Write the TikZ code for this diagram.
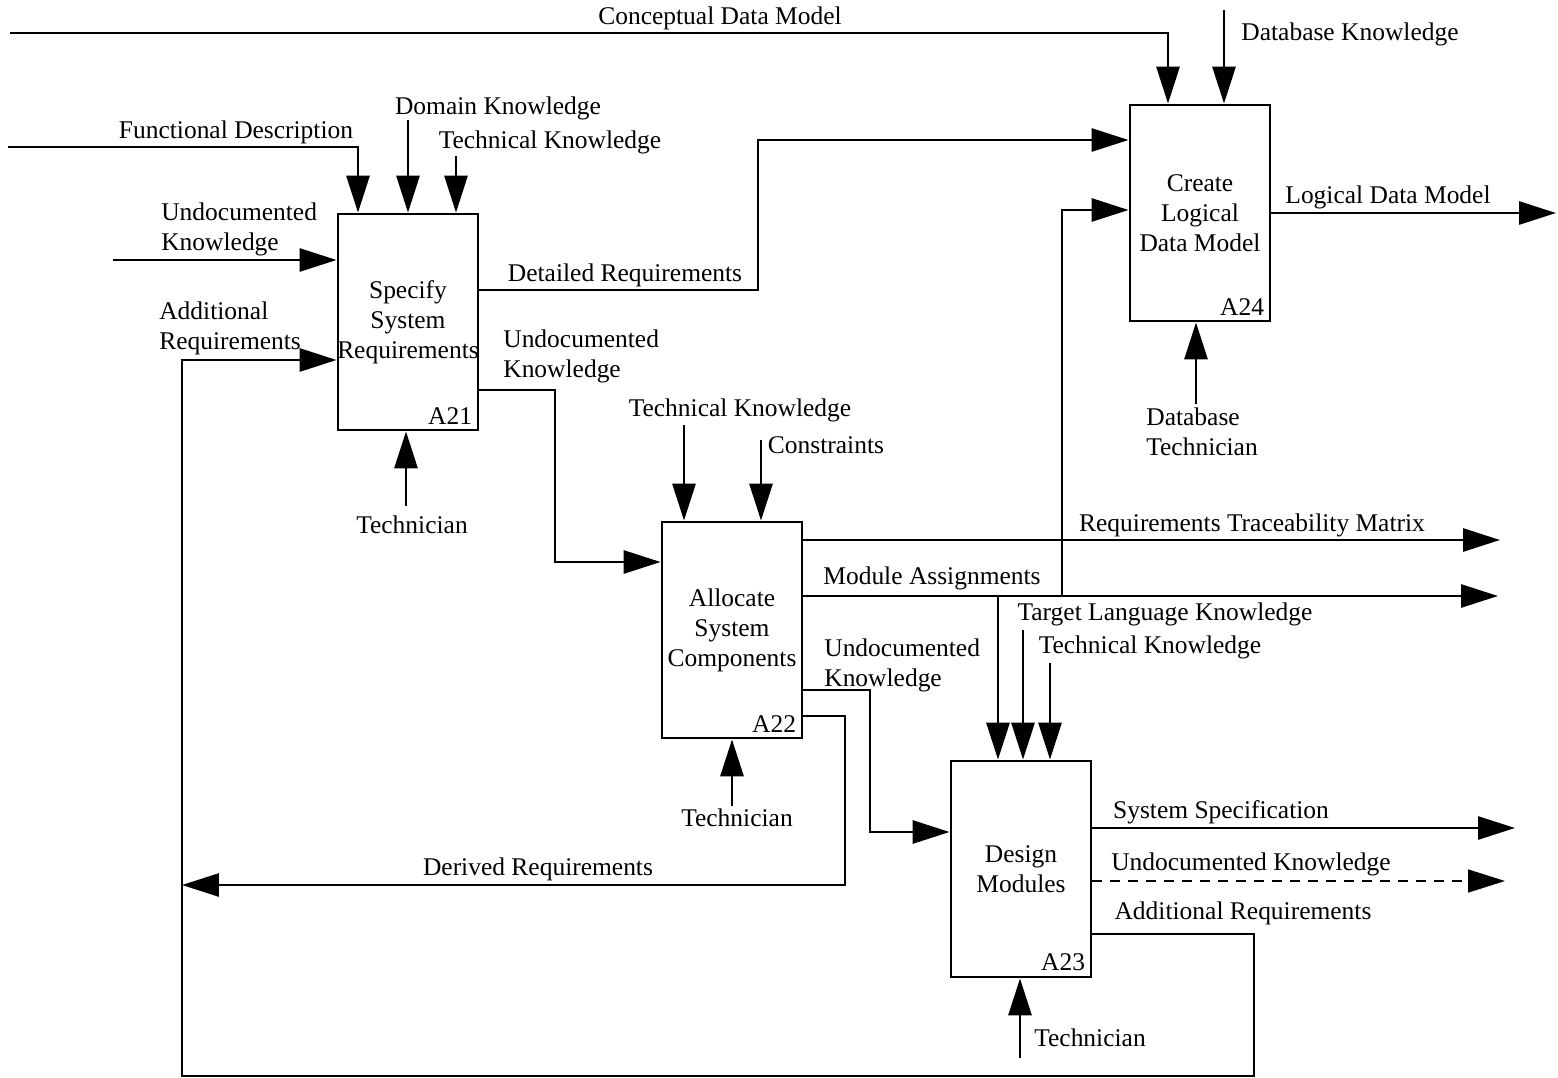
\documentclass[tikz,border=0pt]{standalone}
\usepackage{fontspec}
\setmainfont{Liberation Serif}
\usepackage{tikz}
\usetikzlibrary{arrows.meta,positioning,calc}
\newcommand{\lbfont}{\fontsize{14.5}{17}\selectfont}

\begin{document}
\begin{tikzpicture}[
        x=0.02cm, y=-0.02cm,
        fnbox/.style={rectangle, draw, line width=1.6pt, minimum width=2.8cm, minimum height=4.32cm, inner xsep=-3pt, inner ysep=0pt, align=center, font=\lbfont},
        boxno/.style={anchor=south east, inner sep=4pt, font=\lbfont},
        lbl/.style={align=left, inner sep=0pt, font=\lbfont},
        flow/.style={-{Triangle[length=0.74cm, width=0.46cm]}, line width=1.6pt},
        dflow/.style={flow, line width=0.8pt, dash pattern=on 0.2cm off 0.16cm}
    ]
        \useasboundingbox (0,0) rectangle (1558,1078);

        % activity boxes
        \node[fnbox] (a21) at (408,322) {Specify\\System\\Requirements};
        \node[fnbox] (a22) at (732,630) {Allocate\\System\\Components};
        \node[fnbox] (a23) at (1021,869) {Design\\Modules};
        \node[fnbox] (a24) at (1200,213) {Create\\Logical\\Data Model};
        \node[boxno] (a21n) at (a21.south east) {A21};
        \node[boxno] (a22n) at (a22.south east) {A22};
        \node[boxno] (a23n) at (a23.south east) {A23};
        \node[boxno] (a24n) at (a24.south east) {A24};

        % free ends
        \coordinate (cdm) at (10,33);
        \coordinate (dbk) at (1224,10);
        \coordinate (fd) at (8,147);
        \coordinate (dk) at (408,120);
        \coordinate (tk1) at (456,156);
        \coordinate (uk1) at (113,260);
        \coordinate (tec1) at (406,506);
        \coordinate (tk2) at (684,425);
        \coordinate (con) at (761,440);
        \coordinate (tec2) at (732,806);
        \coordinate (rtm) at (1500,540);
        \coordinate (ma) at (1498,596);
        \coordinate (tlk) at (1023,630);
        \coordinate (tk3) at (1050,663);
        \coordinate (ss) at (1515,828);
        \coordinate (uk4) at (1505,881);
        \coordinate (tec3) at (1020,1058);
        \coordinate (ldm) at (1556,213);
        \coordinate (dbt) at (1196,404);

        % labels
        \node[lbl] (cdml) at (720,18) {Conceptual Data Model};
        \node[lbl] (dbkl) at (1350,34) {Database Knowledge};
        \node[lbl] (fdl) at (236,132) {Functional Description};
        \node[lbl] (dkl) at (498,108) {Domain Knowledge};
        \node[lbl] (tk1l) at (550,142) {Technical Knowledge};
        \node[lbl, anchor=west] (uk1l) at (161,229) {Undocumented\\Knowledge};
        \node[lbl, anchor=west] (arl) at (159,328) {Additional\\Requirements};
        \node[lbl] (drl) at (625,275) {Detailed Requirements};
        \node[lbl, anchor=west] (uk2l) at (503,356) {Undocumented\\Knowledge};
        \node[lbl] (tec1l) at (412,525) {Technician};
        \node[lbl] (tk2l) at (740,410) {Technical Knowledge};
        \node[lbl] (conl) at (826,445) {Constraints};
        \node[lbl] (rtml) at (1252,525) {Requirements Traceability Matrix};
        \node[lbl] (mal) at (932,578) {Module Assignments};
        \node[lbl] (tlkl) at (1165,614) {Target Language Knowledge};
        \node[lbl] (tk3l) at (1150,647) {Technical Knowledge};
        \node[lbl, anchor=west] (uk3l) at (824,665) {Undocumented\\Knowledge};
        \node[lbl] (tec2l) at (737,818) {Technician};
        \node[lbl] (derl) at (538,869) {Derived Requirements};
        \node[lbl] (ssl) at (1221,812) {System Specification};
        \node[lbl] (uk4l) at (1251,864) {Undocumented Knowledge};
        \node[lbl] (ar2l) at (1243,913) {Additional Requirements};
        \node[lbl] (tec3l) at (1090,1038) {Technician};
        \node[lbl] (ldml) at (1388,197) {Logical Data Model};
        \node[lbl, anchor=west] (dbtl) at (1146,432) {Database\\Technician};

        % inputs and controls
        \draw[flow] (cdm) -| (1168,0 |- a24.north);
        \draw[flow] (dbk) -- (dbk |- a24.north);
        \draw[flow] (fd) -| (358,0 |- a21.north);
        \draw[flow] (dk) -- (dk |- a21.north);
        \draw[flow] (tk1) -- (tk1 |- a21.north);
        \draw[flow] (uk1) -- (uk1 -| a21.west);
        \draw[flow] (tec1) -- (tec1 |- a21.south);
        \draw[flow] (tk2) -- (tk2 |- a22.north);
        \draw[flow] (con) -- (con |- a22.north);
        \draw[flow] (tec2) -- (tec2 |- a22.south);
        \draw[flow] (tlk) -- (tlk |- a23.north);
        \draw[flow] (tk3) -- (tk3 |- a23.north);
        \draw[flow] (tec3) -- (tec3 |- a23.south);
        \draw[flow] (dbt) -- (dbt |- a24.south);

        % links between activities
        \draw[flow] (a21.east |- 0,290) -| (758,140) -- (a24.west |- 0,140);
        \draw[flow] (a21.east |- 0,390) -| (555,562) -- (a22.west |- 0,562);
        \draw[flow] (a22.east |- 0,690) -| (870,832) -- (a23.west |- 0,832);
        \draw[flow] (a22.east |- 0,716) -| (845,885) -- (182,885);
        \draw[flow] (a23.east |- 0,934) -| (1254,1076) -| (182,360) -- (a21.west |- 0,360);
        \draw[flow] (998,596) -- (998,0 |- a23.north);
        \draw[flow] (1062,596) |- (a24.west |- 0,210);

        % outputs
        \draw[flow] (a22.east |- rtm) -- (rtm);
        \draw[flow] (a22.east |- ma) -- (ma);
        \draw[flow] (a23.east |- ss) -- (ss);
        \draw[dflow] (a23.east |- uk4) -- (uk4);
        \draw[flow] (a24.east |- ldm) -- (ldm);
    \end{tikzpicture}
\end{document}
